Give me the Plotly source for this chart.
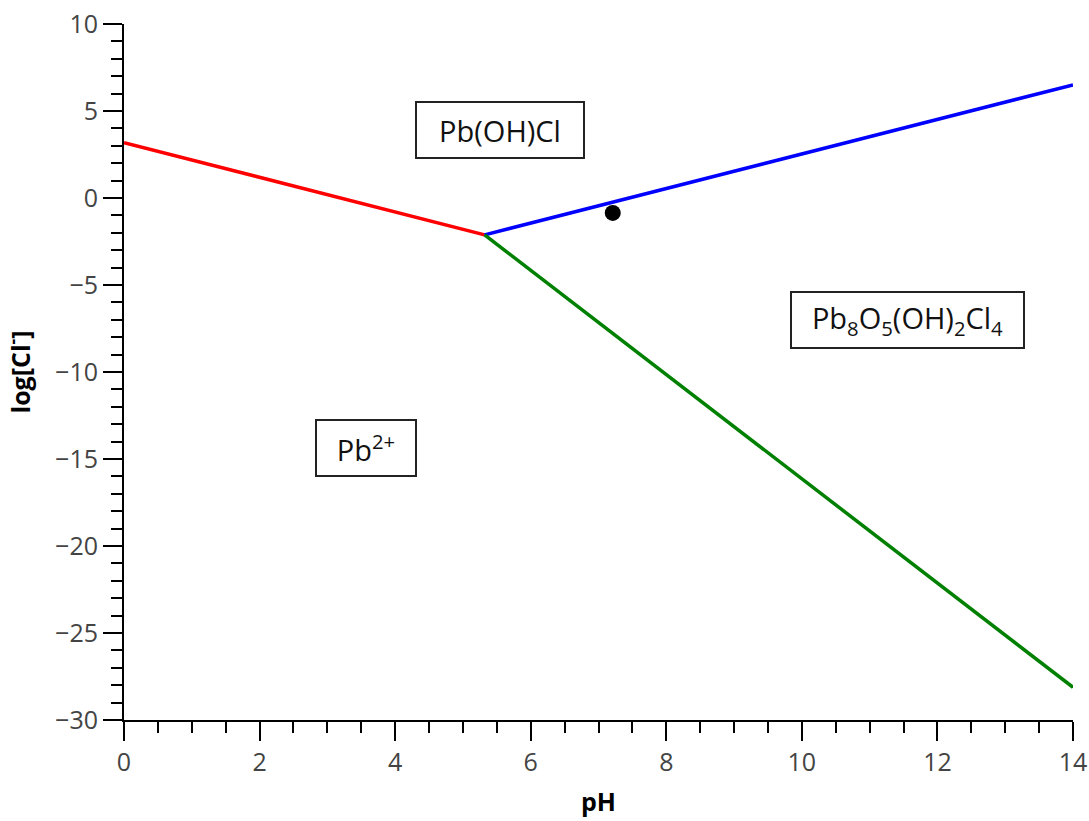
import plotly.graph_objects as go

# Boundary lines (pH, log[Cl-])
red_x = [0.0, 5.32]
red_y = [3.18, -2.12]
blue_x = [5.32, 14.0]
blue_y = [-2.12, 6.5]
green_x = [5.32, 14.0]
green_y = [-2.12, -28.12]

# Measured point
pt_x = [7.21]
pt_y = [-0.86]

# Region labels
label_text = ["Pb(OH)Cl", "Pb<sub>8</sub>O<sub>5</sub>(OH)<sub>2</sub>Cl<sub>4</sub>", "Pb<sup>2+</sup>"]
label_x = [5.54, 11.56, 3.57]
label_y = [3.91, -7.0, -14.35]
label_w = [166, 231, 98]

FONT = "Open Sans"

fig = go.Figure()
fig.add_trace(go.Scatter(x=red_x, y=red_y, mode="lines", line=dict(color="#ff0000", width=3.5), showlegend=False))
fig.add_trace(go.Scatter(x=blue_x, y=blue_y, mode="lines", line=dict(color="#0000ff", width=3.5), showlegend=False))
fig.add_trace(go.Scatter(x=green_x, y=green_y, mode="lines", line=dict(color="#008000", width=3.5), showlegend=False))
fig.add_trace(go.Scatter(x=pt_x, y=pt_y, mode="markers", marker=dict(color="black", size=16), showlegend=False))

for t, x, y, w in zip(label_text, label_x, label_y, label_w):
    fig.add_annotation(x=x, y=y, text=t, showarrow=False, xref="x", yref="y",
                       font=dict(family=FONT, size=29, color="#111"),
                       bordercolor="#222", borderwidth=2, borderpad=0,
                       width=w, height=54, bgcolor="white")

fig.update_layout(
    width=1089, height=821,
    margin=dict(l=124, r=16, t=24, b=101, autoexpand=False),
    plot_bgcolor="white", paper_bgcolor="white",
    font=dict(family=FONT, size=26, color="#444"),
    xaxis=dict(range=[0, 14], tickvals=[0, 2, 4, 6, 8, 10, 12, 14],
               ticks="outside", ticklen=19, tickwidth=2, tickcolor="black",
               showline=True, linecolor="black", linewidth=2,
               showgrid=False, zeroline=False, ticklabeloverflow="allow", automargin=False,
               minor=dict(dtick=0.5, ticks="outside", ticklen=11, tickwidth=2, tickcolor="black", showgrid=False),
               tickfont=dict(family=FONT, size=25, color="#444"),
               title=dict(text="<b>pH</b>", font=dict(family=FONT, size=25, color="black"), standoff=16)),
    yaxis=dict(range=[-30, 10], tickvals=[10, 5, 0, -5, -10, -15, -20, -25, -30],
               ticks="outside", ticklen=19, tickwidth=2, tickcolor="black",
               showline=True, linecolor="black", linewidth=2,
               showgrid=False, zeroline=False, ticklabeloverflow="allow", automargin=False,
               minor=dict(dtick=1, ticks="outside", ticklen=11, tickwidth=2, tickcolor="black", showgrid=False),
               tickfont=dict(family=FONT, size=25, color="#444"),
               title=dict(text="<b>log[Cl<sup>-</sup>]</b>", font=dict(family=FONT, size=25, color="black"), standoff=20)),
)

fig.write_html("out.html", config={"displayModeBar": False},
               post_script="document.body.style.margin='0';")
